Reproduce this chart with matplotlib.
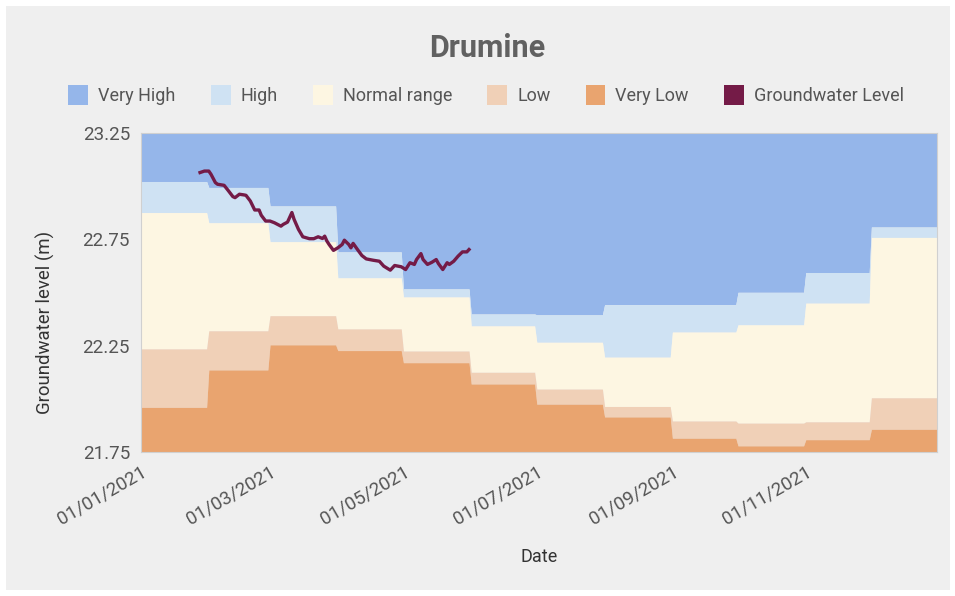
import numpy as np
import pandas as pd
import matplotlib
matplotlib.use("Agg")
import matplotlib.pyplot as plt
import matplotlib.dates as mdates
from matplotlib.patches import Patch, Rectangle

# monthly band thresholds (m), Jan..Dec 2021
months = pd.date_range("2021-01-01", periods=12, freq="MS")
very_high_from = [23.022, 22.994, 22.907, 22.691, 22.517, 22.399,
                  22.395, 22.443, 22.443, 22.501, 22.594, 22.808]
high_from = [22.876, 22.828, 22.739, 22.569, 22.479, 22.343,
             22.266, 22.196, 22.314, 22.348, 22.450, 22.759]
normal_from = [22.235, 22.320, 22.391, 22.329, 22.225, 22.125,
               22.046, 21.964, 21.896, 21.886, 21.892, 22.005]
low_from = [21.960, 22.136, 22.254, 22.227, 22.170, 22.070,
            21.975, 21.915, 21.815, 21.779, 21.808, 21.857]

# groundwater level readings
gw_dates = ["2021-01-28", "2021-01-30", "2021-02-01", "2021-02-02", "2021-02-04",
            "2021-02-05", "2021-02-08", "2021-02-10", "2021-02-12", "2021-02-13",
            "2021-02-15", "2021-02-17", "2021-02-18", "2021-02-20", "2021-02-22",
            "2021-02-24", "2021-02-25", "2021-02-27", "2021-03-01", "2021-03-03",
            "2021-03-06", "2021-03-07", "2021-03-09", "2021-03-11", "2021-03-12",
            "2021-03-14", "2021-03-16", "2021-03-19", "2021-03-21", "2021-03-23",
            "2021-03-25", "2021-03-26", "2021-03-27", "2021-03-28", "2021-03-30",
            "2021-04-01", "2021-04-03", "2021-04-04", "2021-04-06", "2021-04-07",
            "2021-04-08", "2021-04-10", "2021-04-12", "2021-04-14", "2021-04-17",
            "2021-04-20", "2021-04-22", "2021-04-25", "2021-04-27", "2021-04-30",
            "2021-05-02", "2021-05-04", "2021-05-06", "2021-05-07", "2021-05-09",
            "2021-05-10", "2021-05-12", "2021-05-14", "2021-05-16", "2021-05-17",
            "2021-05-19", "2021-05-21", "2021-05-22", "2021-05-24", "2021-05-26",
            "2021-05-28", "2021-05-30", "2021-05-31"]
gw_levels = [23.064, 23.071, 23.071, 23.056, 23.017, 23.009, 23.004, 22.978, 22.951,
             22.946, 22.962, 22.959, 22.957, 22.930, 22.888, 22.888, 22.863, 22.836,
             22.836, 22.828, 22.812, 22.820, 22.831, 22.876, 22.844, 22.797, 22.762,
             22.753, 22.753, 22.762, 22.754, 22.765, 22.742, 22.726, 22.698, 22.710,
             22.726, 22.746, 22.726, 22.710, 22.731, 22.702, 22.674, 22.658, 22.652,
             22.647, 22.624, 22.605, 22.627, 22.621, 22.608, 22.640, 22.632, 22.655,
             22.683, 22.655, 22.632, 22.642, 22.655, 22.636, 22.608, 22.640, 22.632,
             22.647, 22.671, 22.691, 22.691, 22.702]

labels = ["Very High", "High", "Normal range", "Low", "Very Low", "Groundwater Level"]
colors = ["#95b6ea", "#cfe2f3", "#fdf6e2", "#f0d0b7", "#e9a46f", "#741b47"]

ymin, ymax = 21.75, 23.25

# each month drawn flat from its first to its last day
xs, rows = [], []
ends = list(months[1:]) + [pd.Timestamp("2022-01-01")]
for i, m in enumerate(months):
    xs += [m, ends[i] - pd.Timedelta(days=1)]
    rows += [i, i]
xs = pd.to_datetime(xs)
rows = np.array(rows)
vh = np.array(very_high_from)[rows]
hi = np.array(high_from)[rows]
no = np.array(normal_from)[rows]
lo = np.array(low_from)[rows]

plt.rcParams["font.family"] = ["Roboto", "DejaVu Sans"]
fig = plt.figure(figsize=(9.55, 5.96), dpi=100, facecolor="white")
fig.patches.append(Rectangle((6 / 955, 6 / 596), 944 / 955, 584 / 596,
                             transform=fig.transFigure, facecolor="#efefef",
                             edgecolor="none", zorder=-10))
ax = fig.add_axes([141 / 955, 1 - 452 / 596, 796 / 955, 319 / 596])
ax.set_facecolor("#efefef")

ax.fill_between(xs, vh, ymax + 1, color=colors[0], lw=0)
ax.fill_between(xs, hi, vh, color=colors[1], lw=0)
ax.fill_between(xs, no, hi, color=colors[2], lw=0)
ax.fill_between(xs, lo, no, color=colors[3], lw=0)
ax.fill_between(xs, ymin - 1, lo, color=colors[4], lw=0)
ax.plot(pd.to_datetime(gw_dates), gw_levels, color=colors[5], lw=2.4, zorder=5)

ax.set_xlim(pd.Timestamp("2021-01-01"), pd.Timestamp("2021-12-31"))
ax.set_ylim(ymin, ymax)
ax.set_yticks([21.75, 22.25, 22.75, 23.25])
ax.yaxis.set_major_formatter(plt.FuncFormatter(lambda v, p: f"{v:.2f}"))
ax.xaxis.set_major_locator(mdates.MonthLocator(bymonth=[1, 3, 5, 7, 9, 11]))
ax.xaxis.set_major_formatter(mdates.DateFormatter("%d/%m/%Y"))
ax.tick_params(length=0, labelsize=13.5, colors="#555555", pad=8)
for t in ax.get_xticklabels():
    t.set_rotation(30)
    t.set_ha("right")
    t.set_rotation_mode("anchor")
for s in ax.spines.values():
    s.set_color("#d0d0d0")
    s.set_linewidth(0.8)

ax.set_xlabel("Date", fontsize=13, color="#333333", labelpad=14)
ax.set_ylabel("Groundwater level (m)", fontsize=13.4, color="#333333")
ax.yaxis.set_label_coords(-0.108, 0.405)

fig.text(487 / 955, 1 - 48 / 596, "Drumine", ha="center", va="center",
         fontsize=22, fontweight="bold", color="#616161")

handles = [Patch(facecolor=c, edgecolor="none") for c in colors]
fig.legend(handles, labels, loc="center", ncol=6, frameon=False,
           bbox_to_anchor=(486 / 955, 1 - 95 / 596), fontsize=13,
           handlelength=1.1, handleheight=1.3, handletextpad=0.55,
           columnspacing=1.95, labelcolor="#555555")

fig.savefig("out.png", dpi=100, facecolor=fig.get_facecolor())
